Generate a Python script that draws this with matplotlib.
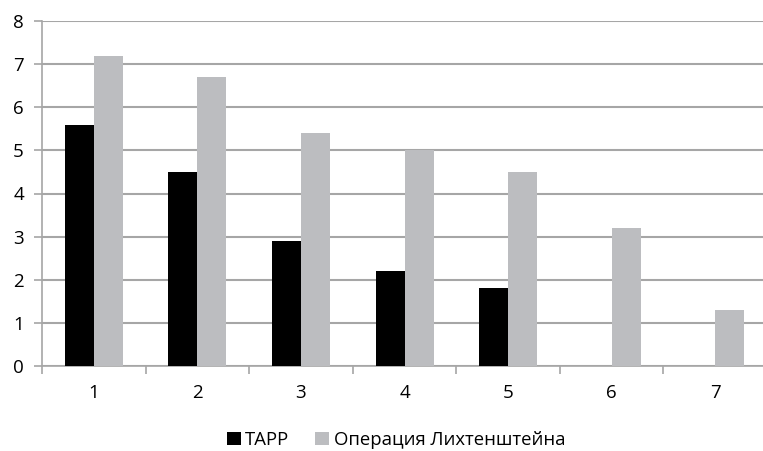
import numpy as np
import matplotlib.pyplot as plt

plt.rcParams['font.family'] = ['Open Sans', 'DejaVu Sans']

categories = ['1', '2', '3', '4', '5', '6', '7']
tapp = [5.6, 4.5, 2.9, 2.2, 1.8, 0, 0]
lichtenstein = [7.2, 6.7, 5.4, 5.0, 4.5, 3.2, 1.3]
labels = ['TAPP', 'Операция Лихтенштейна']

grid_col = '#a6a6a6'

fig = plt.figure(figsize=(7.63, 4.51), dpi=100)
ax = fig.add_axes([42/763, 85/451, 725/763, 345/451])

x = np.arange(len(categories))
w = 0.28
ax.bar(x - w/2, tapp, w, color='black', label=labels[0], zorder=3)
ax.bar(x + w/2, lichtenstein, w, color='#bcbdc0', label=labels[1], zorder=3)

ax.set_xlim(-0.5, len(categories) - 0.5)
ax.set_ylim(0, 8)
ax.set_yticks(range(0, 9))
ax.yaxis.grid(True, color=grid_col, linewidth=1.5, zorder=0)

ax.set_xticks(x)
ax.set_xticklabels(categories)
ax.set_xticks(np.arange(-0.5, len(categories)), minor=True)
ax.tick_params(axis='x', which='major', length=0, pad=13, labelsize=13.5)
ax.tick_params(axis='x', which='minor', length=6, color=grid_col, width=1.2)
ax.tick_params(axis='y', length=6, color=grid_col, width=1.2, pad=7, labelsize=13.5)

for s in ['top', 'right']:
    ax.spines[s].set_visible(False)
for s in ['left', 'bottom']:
    ax.spines[s].set_color(grid_col)
    ax.spines[s].set_linewidth(1.2)

ax.legend(loc='center', bbox_to_anchor=(396/763, 11/451), bbox_transform=fig.transFigure,
          ncol=2, frameon=False, fontsize=13.3, handlelength=0.75, handleheight=0.75,
          handletextpad=0.25, columnspacing=1.4)

fig.savefig('out.png', dpi=100)
